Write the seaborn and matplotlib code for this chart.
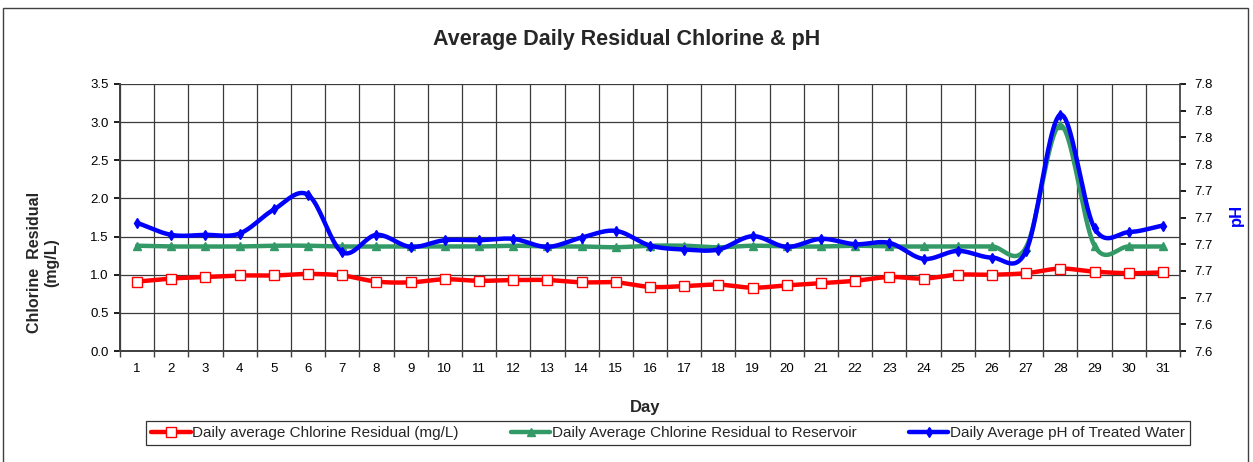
import numpy as np
import pandas as pd
import seaborn as sns
import matplotlib.pyplot as plt
from matplotlib.lines import Line2D
from matplotlib.patches import Rectangle
from matplotlib.ticker import FixedLocator, FormatStrFormatter, MultipleLocator

days = list(range(1, 32))

chlorine = [0.91, 0.95, 0.97, 0.99, 0.99, 1.01, 0.99, 0.91, 0.90, 0.94,
            0.92, 0.93, 0.93, 0.90, 0.90, 0.84, 0.85, 0.87, 0.83, 0.86,
            0.89, 0.92, 0.97, 0.95, 1.00, 1.00, 1.02, 1.08, 1.04, 1.02, 1.03]

reservoir = [1.38, 1.37, 1.37, 1.37, 1.38, 1.38, 1.37, 1.37, 1.37, 1.37,
             1.37, 1.38, 1.37, 1.37, 1.36, 1.38, 1.38, 1.36, 1.38, 1.37,
             1.37, 1.38, 1.37, 1.37, 1.37, 1.37, 1.36, 2.96, 1.38, 1.37, 1.37]

ph = [7.716, 7.707, 7.707, 7.708, 7.726, 7.737, 7.694, 7.707, 7.698, 7.703,
      7.703, 7.704, 7.698, 7.705, 7.710, 7.699, 7.696, 7.696, 7.706, 7.698,
      7.704, 7.700, 7.701, 7.689, 7.695, 7.690, 7.695, 7.797, 7.712, 7.709, 7.714]

labels = ['Daily average Chlorine Residual (mg/L)',
          'Daily Average Chlorine Residual to Reservoir',
          'Daily Average pH of Treated Water']

RED, GREEN, BLUE = '#ff0000', '#339966', '#0000ff'


def smooth(x, y, n=20):
    # catmull-rom style curve through the points, like excel's smoothed line
    x = np.asarray(x, float)
    y = np.asarray(y, float)
    m = np.gradient(y, x, edge_order=1)
    m[1:-1] = (y[2:] - y[:-2]) / (x[2:] - x[:-2])
    xs, ys = [], []
    for i in range(len(x) - 1):
        t = np.linspace(0, 1, n, endpoint=False)
        h = x[i + 1] - x[i]
        h00 = 2 * t**3 - 3 * t**2 + 1
        h10 = t**3 - 2 * t**2 + t
        h01 = -2 * t**3 + 3 * t**2
        h11 = t**3 - t**2
        xs.append(x[i] + t * h)
        ys.append(h00 * y[i] + h10 * h * m[i] + h01 * y[i + 1] + h11 * h * m[i + 1])
    xs.append([x[-1]])
    ys.append([y[-1]])
    return pd.DataFrame({'x': np.concatenate(xs), 'y': np.concatenate(ys)})


sns.set_theme(style='white')
plt.rcParams['font.family'] = ['Liberation Sans', 'DejaVu Sans']

fig = plt.figure(figsize=(12.53, 4.62), dpi=100)
ax = fig.add_axes([120 / 1253, 1 - 351 / 462, 1060 / 1253, 267 / 462])
ax2 = ax.twinx()

lw = 3.2
sns.lineplot(data=smooth(days, chlorine), x='x', y='y', sort=False, ax=ax,
             color=RED, lw=lw, zorder=3)
ax.plot(days, chlorine, ls='none', marker='s', ms=6.5, mfc='white', mec=RED,
        mew=1, zorder=4)
sns.lineplot(data=smooth(days, reservoir), x='x', y='y', sort=False, ax=ax,
             color=GREEN, lw=lw, zorder=3)
ax.plot(days, reservoir, ls='none', marker='^', ms=5.5, color=GREEN, zorder=4)
sns.lineplot(data=smooth(days, ph), x='x', y='y', sort=False, ax=ax2,
             color=BLUE, lw=lw, zorder=3)
ax2.plot(days, ph, ls='none', marker='d', ms=5, color=BLUE, zorder=4)

ax.set_xlim(0.5, 31.5)
ax.set_ylim(0, 3.5)
ax2.set_ylim(7.62, 7.82)

ax.xaxis.set_major_locator(FixedLocator(days))
ax.set_xticklabels([str(d) for d in days])
ax.xaxis.set_minor_locator(FixedLocator(np.arange(0.5, 32, 1)))
ax.yaxis.set_major_locator(MultipleLocator(0.5))
ax.yaxis.set_major_formatter(FormatStrFormatter('%.1f'))
ax2.yaxis.set_major_locator(FixedLocator(np.linspace(7.62, 7.82, 11)))
ax2.yaxis.set_major_formatter(FormatStrFormatter('%.1f'))

ax.grid(True, axis='y', which='major', color='#3a3a3a', lw=0.9)
ax.grid(True, axis='x', which='minor', color='#3a3a3a', lw=0.9)
ax.set_axisbelow(True)

ax.tick_params(axis='x', which='major', length=0, labelsize=9.5, pad=9, colors='black')
ax.tick_params(axis='x', which='minor', length=4, direction='out', bottom=True,
               color='#404040')
ax.tick_params(axis='y', length=4, direction='out', left=True, labelsize=9.5,
               colors='black', pad=4)
ax2.tick_params(axis='y', length=4, direction='out', right=True, labelsize=9.5,
                colors='black', pad=6)

for a in (ax, ax2):
    a.spines['top'].set_visible(False)
    a.spines['left'].set_color('#404040')
    a.spines['right'].set_color('#404040')
    a.spines['bottom'].set_color('#404040')
ax.spines['right'].set_visible(False)

ax.set_xlabel('Day', fontsize=12, fontweight='bold')
ax.xaxis.set_label_coords(0.495, -0.185)
ax.set_ylabel('Chlorine  Residual\n(mg/L)', fontsize=11.5, fontweight='bold',
              linespacing=1.2)
ax.yaxis.set_label_coords(-0.057, 0.33)
ax2.set_ylabel('pH', fontsize=12, fontweight='bold', color=BLUE, rotation=90)
ax2.yaxis.set_label_coords(1.046, 0.51)

fig.text(0.5, 1 - 40 / 462, 'Average Daily Residual Chlorine & pH',
         ha='center', va='center', fontsize=15.5, fontweight='bold')

handles = [
    Line2D([], [], color=RED, lw=lw, marker='s', ms=6.5, mfc='white', mec=RED),
    Line2D([], [], color=GREEN, lw=lw, marker='^', ms=5.5),
    Line2D([], [], color=BLUE, lw=lw, marker='d', ms=5),
]
leg = fig.legend(handles, labels, loc='center', bbox_to_anchor=(668 / 1253, 1 - 433 / 462),
                 ncol=3, fontsize=11, frameon=True, fancybox=False,
                 handlelength=2.6, handletextpad=0.1, columnspacing=3.4,
                 borderpad=0.35, borderaxespad=0, edgecolor='black')
leg.get_frame().set_linewidth(0.9)

fig.patches.append(Rectangle((3 / 1253, -0.05), 1245 / 1253, 1.05 - 8 / 462,
                             transform=fig.transFigure, fill=False,
                             edgecolor='#404040', lw=1))

fig.savefig('out.png', dpi=100)
